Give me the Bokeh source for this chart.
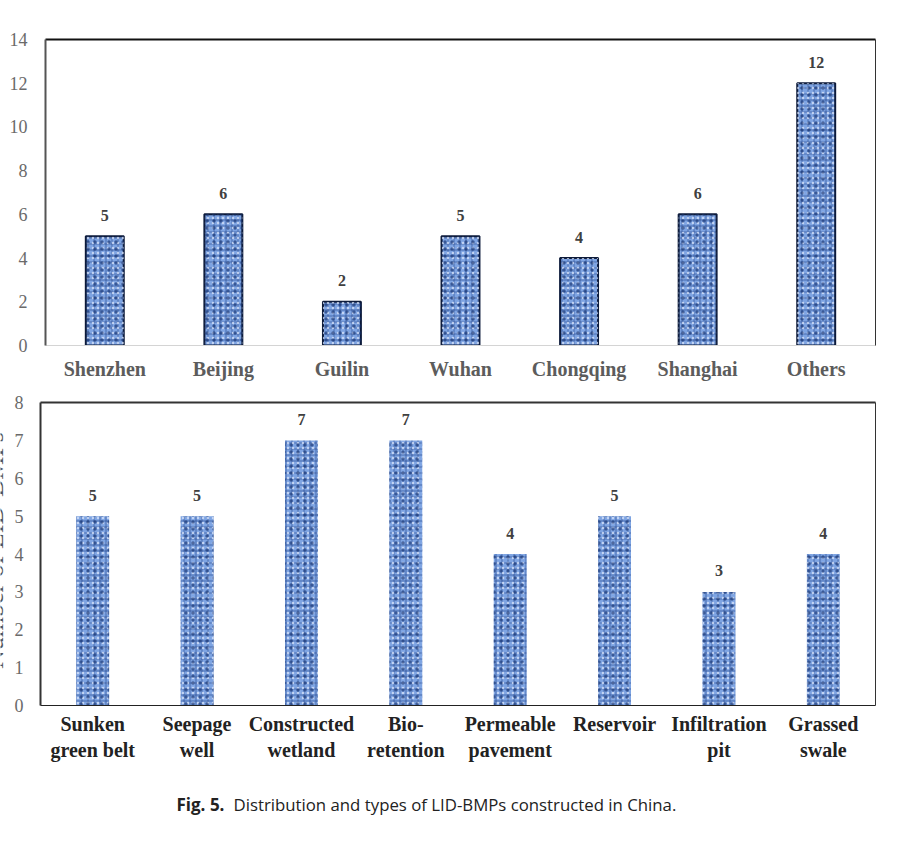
from bokeh.plotting import figure
from bokeh.layouts import column, row
from bokeh.models import Label, LinearAxis, ColumnDataSource, FixedTicker
from bokeh.embed import file_html
from bokeh.resources import INLINE

cities = ["Shenzhen", "Beijing", "Guilin", "Wuhan", "Chongqing", "Shanghai", "Others"]
city_counts = [5, 6, 2, 5, 4, 6, 12]
types = ["Sunken\ngreen belt", "Seepage\nwell", "Constructed\nwetland", "Bio-\nretention",
         "Permeable\npavement", "Reservoir", "Infiltration\npit", "Grassed\nswale"]
type_counts = [5, 5, 7, 7, 4, 5, 3, 4]
y_title = "Number of LID-BMPs"
caption_bold = "Fig. 5."
caption_rest = "Distribution and types of LID-BMPs constructed in China."

SERIF = "Liberation Serif"


def make(cats, vals, ymax, width, left, top, fw, fh, total_h, bar_w, line, lab_color, lab_size, standoff, tick_off):
    p = figure(x_range=cats, y_range=(0, ymax), width=width, height=total_h,
               frame_width=fw, frame_height=fh,
               output_backend="svg", toolbar_location=None,
               min_border_left=left, min_border_top=top,
               min_border_right=width - left - fw, min_border_bottom=total_h - top - fh,
               background_fill_color="white", border_fill_color="white")
    p.outline_line_color = None
    p.grid.visible = False
    src = ColumnDataSource(dict(c=cats, v=vals, t=[str(v) for v in vals]))
    p.vbar(x="c", top="v", width=bar_w, source=src, fill_color="#7ea4e2",
           line_color=line, line_width=2 if line else 0,
           hatch_pattern="cross", hatch_color="#1d3c82", hatch_scale=6, hatch_weight=1.0, hatch_alpha=0.55)
    p.vbar(x="c", top="v", width=bar_w, source=src, fill_alpha=0, line_color=None,
           hatch_pattern="dot", hatch_color="#dbe6fb", hatch_scale=5, hatch_weight=1.6, hatch_alpha=0.75)
    p.vbar(x="c", top="v", width=bar_w, source=src, fill_alpha=0, line_color=None,
           hatch_pattern="dot", hatch_color="#12306e", hatch_scale=7, hatch_weight=1.6, hatch_alpha=0.65)
    p.text(x="c", y="v", text="t", source=src, text_align="center", text_baseline="middle",
           y_offset=-21, text_font=SERIF, text_font_style="bold", text_font_size="16px", text_color="#404040")
    ax = p.yaxis[0]
    ax.major_tick_line_color = None
    ax.minor_tick_line_color = None
    ax.axis_line_width = 2
    ax.major_label_text_font = SERIF
    ax.major_label_text_font_size = "18px"
    ax.major_label_text_color = "#6a6a6a"
    ax.major_label_standoff = tick_off
    xa = p.xaxis[0]
    xa.major_tick_line_color = None
    xa.major_label_text_font = SERIF
    xa.major_label_text_font_style = "bold"
    xa.major_label_text_font_size = lab_size
    xa.major_label_text_color = lab_color
    xa.major_label_standoff = standoff
    xa.major_label_orientation = "horizontal"
    return p


def edge(p, side, color, width):
    a = LinearAxis(ticker=FixedTicker(ticks=[]), major_tick_line_color=None, minor_tick_line_color=None,
                   axis_line_color=color, axis_line_width=width)
    p.add_layout(a, side)


def blank(width, height):
    p = figure(x_range=(0, 1), y_range=(0, 1), width=width, height=height, output_backend="svg",
               toolbar_location=None, x_axis_location=None, y_axis_location=None,
               min_border=0, border_fill_color=None, background_fill_color=None)
    p.outline_line_color = None
    p.grid.visible = False
    return p


top = make(cities, city_counts, 14, 900, 45, 39, 830, 306, 385, 0.32, "#0c1a3a", "#5c5c5c", "20px", 6, 12)
top.yaxis[0].axis_line_color = "#555555"
top.xaxis[0].axis_line_color = "#d4d4d4"
edge(top, "above", "#111111", 2)
edge(top, "right", "#333333", 1)

bot = make(types, type_counts, 8, 900, 40, 17, 835, 303, 395, 0.315, None, "#222222", "20px", 1, 11)
bot.yaxis[0].axis_line_color = "#333333"
bot.xaxis[0].axis_line_color = "#222222"
edge(bot, "above", "#333333", 2)
edge(bot, "right", "#333333", 1)

side = blank(16, 395)
side.add_layout(Label(x=-6, y=230, x_units="screen", y_units="screen", text=y_title, angle=90,
                      angle_units="deg", text_align="center", text_baseline="alphabetic",
                      text_font=SERIF, text_font_size="26px", text_color="#555555"))

cap = blank(900, 50)
cap.add_layout(Label(x=176, y=26, x_units="screen", y_units="screen", text=caption_bold,
                     text_align="left", text_baseline="middle", text_font="Open Sans",
                     text_font_style="bold", text_font_size="17px", text_color="#222222"))
cap.add_layout(Label(x=233, y=26, x_units="screen", y_units="screen", text=caption_rest,
                     text_align="left", text_baseline="middle", text_font="Open Sans",
                     text_font_size="16.8px", text_color="#222222"))

side_wrap = row(side, styles={"position": "absolute", "left": "0px", "top": "385px"})
page = column(row(top), row(bot), row(cap), side_wrap, spacing=0,
              styles={"position": "absolute", "left": "0px", "top": "0px"})
open("out.html", "w").write(file_html(page, INLINE))
